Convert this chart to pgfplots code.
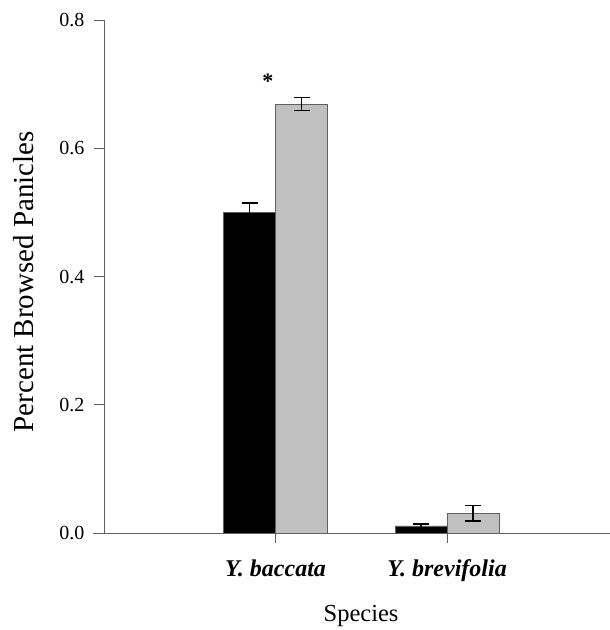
\documentclass[border=0pt]{standalone}
\usepackage{fontspec}
\setmainfont{Liberation Serif}
\usepackage{pgfplots}
\pgfplotsset{compat=1.18}
\definecolor{axgray}{HTML}{606060}
\definecolor{bargray}{HTML}{C0C0C0}
\begin{document}
\begin{tikzpicture}
\begin{axis}[
  at={(104bp,97bp)}, anchor=south west, scale only axis,
  width=506bp, height=513bp,
  xmin=0, xmax=2.95, ymin=0, ymax=0.8,
  axis x line=bottom, axis y line=left,
  axis line style={-, axgray, line width=0.8bp},
  tick align=outside, major tick length=10bp,
  tick style={axgray, line width=0.8bp},
  ybar=0pt, bar width=52bp,
  xtick={1,2},
  xticklabels={\textbf{\textit{Y. baccata}}, \textbf{\textit{Y. brevifolia}}},
  xticklabel style={font=\fontsize{24bp}{26bp}\selectfont, anchor=base, yshift=-33bp},
  ytick={0,0.2,0.4,0.6,0.8},
  yticklabel style={font=\fontsize{20bp}{22bp}\selectfont, xshift=-6bp, /pgf/number format/fixed, /pgf/number format/fixed zerofill, /pgf/number format/precision=1},
  /pgf/number format/assume math mode=true,
  xlabel={Species},
  xlabel style={font=\fontsize{24.5bp}{26bp}\selectfont, at={(axis description cs:0.508,-0.173)}, anchor=base},
  ylabel={Percent Browsed Panicles},
  ylabel style={font=\fontsize{29bp}{31bp}\selectfont, at={(axis description cs:-0.159,0.49)}, anchor=center},
]
\addplot[fill=black, draw=axgray, line width=0.8bp,
  error bars/.cd, y dir=both, y explicit,
  error bar style={black, line width=1.5bp},
  error mark options={rotate=90, mark size=8bp, black, line width=1.5bp}]
  coordinates {(1,0.500) +- (0,0.015) (2,0.011) +- (0,0.003)};
\addplot[fill=bargray, draw=axgray, line width=0.8bp,
  error bars/.cd, y dir=both, y explicit,
  error bar style={black, line width=1.5bp},
  error mark options={rotate=90, mark size=8bp, black, line width=1.5bp}]
  coordinates {(1,0.669) +- (0,0.010) (2,0.031) +- (0,0.012)};
\node[font=\fontsize{22bp}{22bp}\selectfont\bfseries] at (axis cs:0.956,0.704) {*};
\end{axis}
\draw[axgray, line width=0.8bp] (93bp,97bp) -- (104bp,97bp);
\pgfresetboundingbox
\path (0,0) rectangle (610bp,630bp);
\end{tikzpicture}
\end{document}
